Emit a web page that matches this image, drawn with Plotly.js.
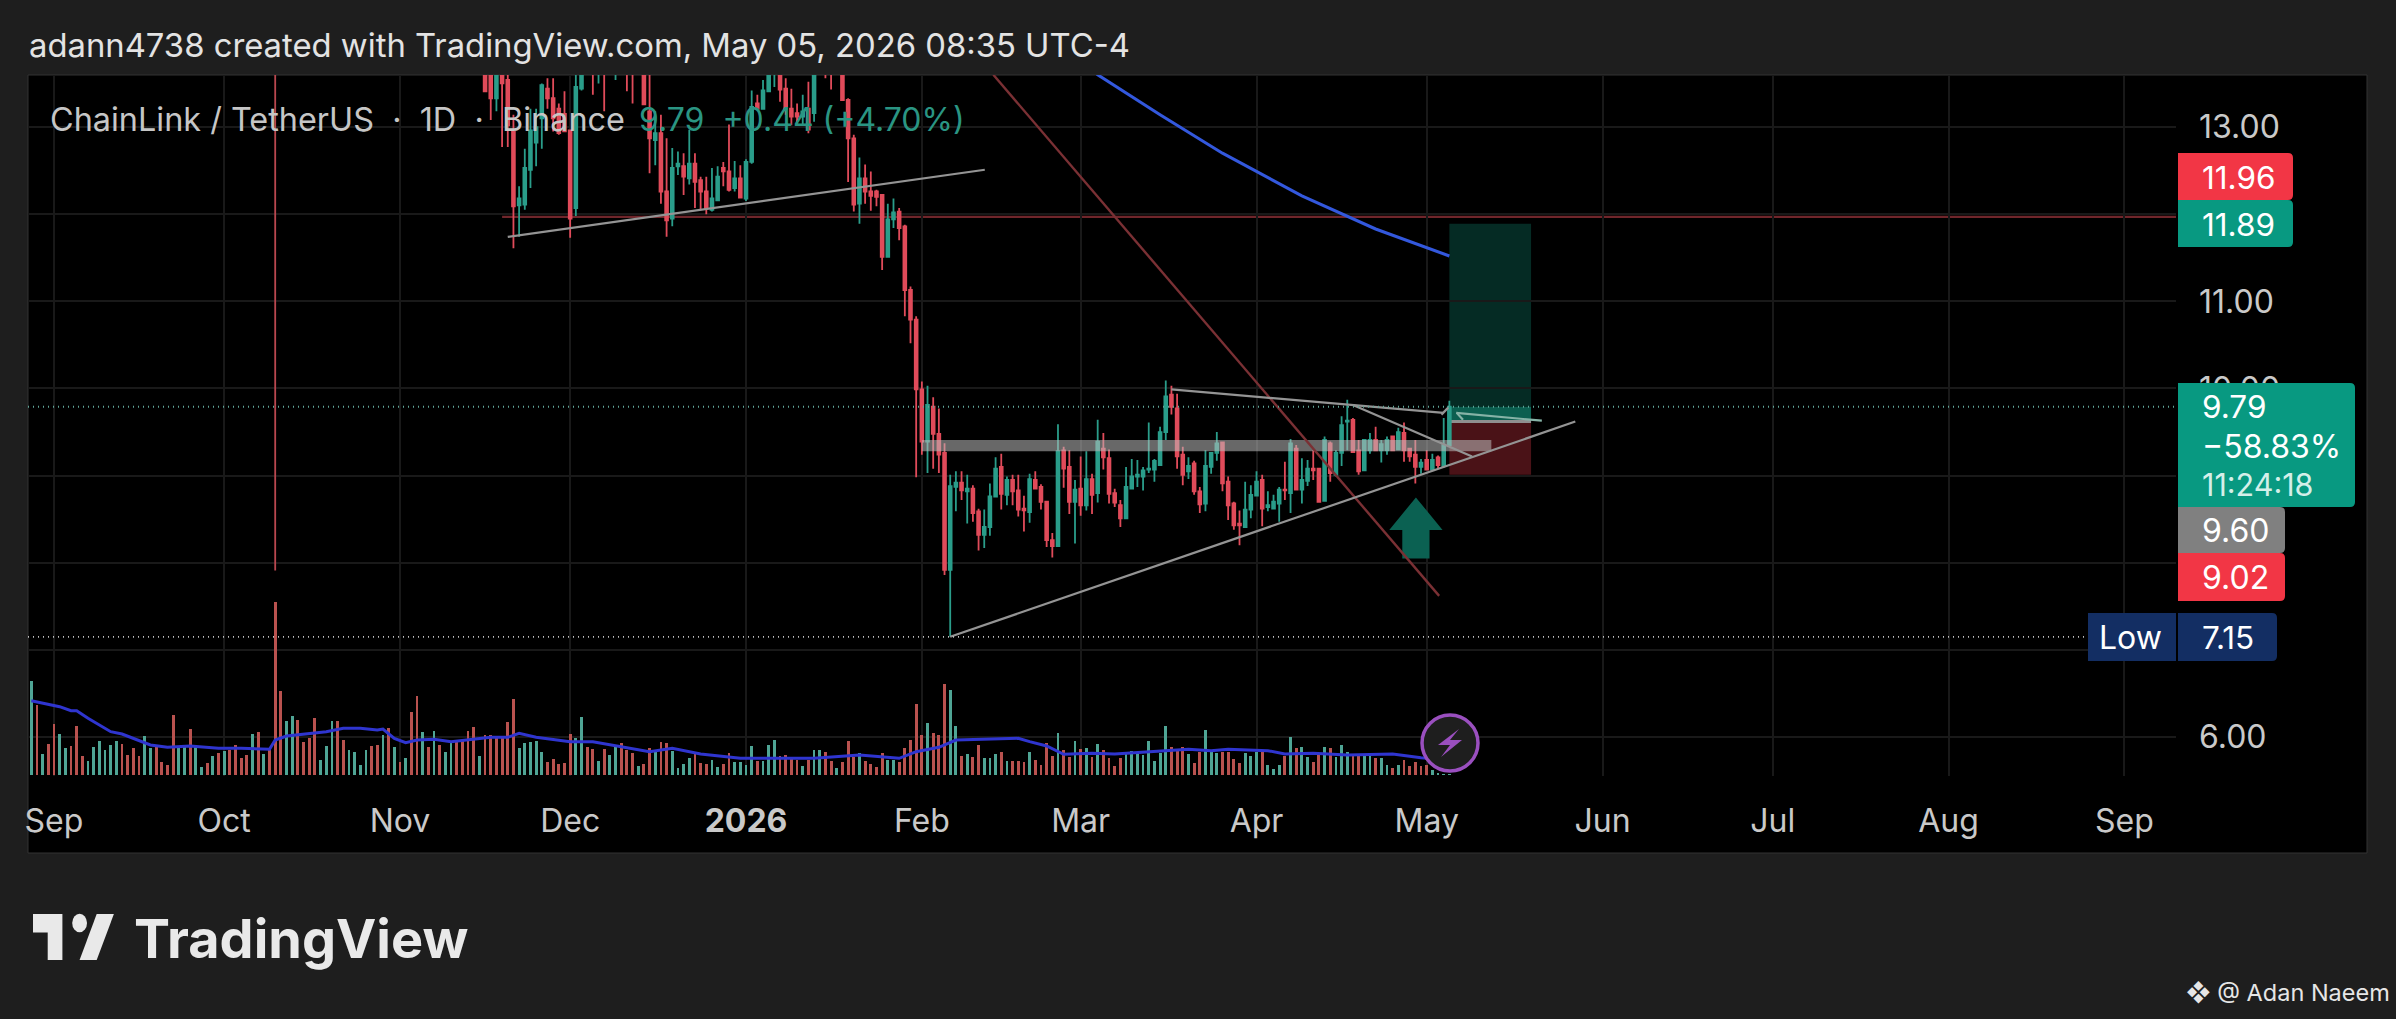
<!DOCTYPE html>
<html>
<head>
<meta charset="utf-8">
<script src="https://cdn.plot.ly/plotly-3.0.1.min.js"></script>
<style>html,body{margin:0;padding:0;background:#1e1e1e}#chart{width:2396px;height:1019px}</style>
</head>
<body>
<div id="chart"></div>
<script>
// Daily candles, first candle = Sep 1 2025 + 76 days
const firstCandleDay = 76;
const opens = [13.9,13.7,13.33,13.6,13.54,12.95,12.10,12.11,12.51,12.82,
13.10,13.44,13.33,13.21,13.15,12.96,12.07,13.44,13.9,13.85,
13.66,13.85,13.7,13.68,13.9,13.95,13.7,13.7,13.9,13.18,
12.85,12.93,12.26,11.95,12.55,12.55,12.41,12.58,12.39,12.26,
12.05,12.16,12.53,12.49,12.30,12.41,12.18,12.60,13.27,13.21,
13.41,13.62,13.7,13.44,13.21,13.16,13.12,13.21,13.16,13.7,
13.9,13.8,13.65,13.85,13.31,12.87,12.12,12.41,12.26,12.26,
12.22,11.51,11.94,12.03,11.86,11.13,10.79,9.99,9.39,9.79,
9.48,9.26,7.92,8.87,8.92,8.82,8.85,8.59,8.32,8.41,
8.76,9.10,8.78,8.95,8.83,8.62,8.58,8.95,8.87,8.70,
8.26,8.19,9.29,9.10,8.70,8.85,8.66,8.96,8.80,9.31,
9.20,8.80,8.66,8.51,8.85,8.99,8.99,9.07,9.07,9.12,
9.50,9.93,9.77,9.24,9.05,9.14,8.82,8.68,9.10,9.26,
9.38,8.93,8.68,8.45,8.41,8.61,8.77,8.95,8.64,8.62,
8.68,8.84,8.80,9.31,8.84,8.94,9.08,9.08,8.71,9.37,
9.01,9.26,9.62,9.64,9.29,9.06,9.29,9.41,9.29,9.29,
9.45,9.30,9.49,9.31,9.24,9.10,9.18,9.07,9.21,9.11,
9.35];
const highs = [14.0,13.9,13.9,13.7,13.65,13.14,12.32,12.75,13.21,13.21,
13.50,13.56,13.56,13.27,13.41,12.97,13.65,13.9,14.1,14.0,
14.0,14.0,14.0,14.0,14.1,14.1,14.0,13.9,14.0,13.65,
13.18,13.14,12.87,12.76,12.72,12.70,12.97,12.70,12.43,12.43,
12.53,12.55,12.60,13.03,12.61,12.56,12.63,13.42,13.37,13.54,
13.8,13.8,13.85,13.56,13.44,13.27,13.37,13.52,13.9,14.0,
14.0,14.0,13.95,14.0,13.33,12.91,12.65,12.57,12.49,12.28,
12.23,12.12,12.18,12.07,11.88,11.17,10.83,10.08,10.03,9.90,
9.77,9.37,9.01,9.05,9.05,9.01,8.89,8.62,8.61,8.91,
9.21,9.25,8.99,9.01,9.01,8.77,9.02,9.05,8.90,8.70,
8.34,9.59,9.33,9.29,8.95,9.22,9.28,9.02,9.64,9.49,
9.30,8.85,8.72,9.10,9.19,9.18,9.10,9.61,9.19,9.56,
10.09,10.03,9.94,9.33,9.21,9.17,8.87,9.29,9.26,9.50,
9.39,8.99,8.70,8.60,8.93,8.89,9.05,9.01,8.82,8.78,
8.87,9.16,9.42,9.35,9.20,9.18,9.29,9.09,9.45,9.39,
9.29,9.68,9.87,9.66,9.41,9.41,9.49,9.56,9.41,9.45,
9.45,9.55,9.61,9.31,9.41,9.19,9.29,9.25,9.23,9.66,
9.86];
const lows = [13.40,13.08,13.18,12.77,12.77,11.61,11.74,12.05,12.30,12.55,
12.75,13.21,12.95,12.91,12.95,11.73,11.98,13.42,13.7,13.37,
13.5,13.18,13.62,13.54,13.65,13.41,13.27,13.62,13.25,12.47,
12.56,12.12,11.74,11.86,12.45,12.22,12.34,12.07,12.05,12.00,
12.03,12.16,12.32,12.26,12.26,12.18,12.15,12.58,13.20,13.21,
13.40,13.46,13.29,13.14,13.02,13.06,13.02,12.93,13.06,13.65,
13.56,13.43,13.62,13.31,12.37,12.03,11.89,12.12,12.04,12.09,
11.36,11.51,11.84,11.70,10.83,10.52,8.98,9.24,9.03,9.08,
9.03,7.86,7.15,8.59,8.72,8.45,8.47,8.14,8.17,8.31,
8.76,8.61,8.66,8.66,8.53,8.36,8.46,8.85,8.61,8.18,
8.06,8.18,8.86,8.56,8.22,8.54,8.60,8.56,8.69,9.07,
8.68,8.64,8.41,8.50,8.85,8.87,8.83,9.03,8.93,9.12,
9.41,9.70,9.08,8.89,8.96,8.78,8.57,8.59,9.02,9.17,
8.82,8.49,8.38,8.20,8.40,8.51,8.76,8.42,8.59,8.61,
8.47,8.72,8.57,8.83,8.68,8.88,8.95,8.69,8.71,8.93,
8.99,9.11,9.29,9.26,9.01,9.05,9.25,9.28,9.15,9.24,
9.29,9.29,9.16,9.16,8.91,9.02,9.06,9.06,9.08,9.09,
9.34];
const closes = [13.41,13.33,13.7,13.5,13.02,12.09,12.18,12.53,12.96,13.0,
13.48,13.33,13.10,12.93,12.95,11.95,13.46,13.8,14.0,13.62,
13.85,13.65,13.9,13.9,14.0,13.7,13.62,13.8,13.26,12.87,
12.93,12.26,11.93,12.53,12.58,12.43,12.58,12.37,12.26,12.07,
12.18,12.43,12.49,12.28,12.41,12.19,12.60,13.23,13.21,13.42,
13.62,13.7,13.43,13.21,13.12,13.12,13.18,12.97,13.7,13.9,
13.7,13.65,13.85,13.31,12.87,12.11,12.41,12.26,12.21,12.20,
11.51,11.94,12.02,11.84,11.13,10.79,9.99,9.39,9.81,9.48,
9.24,7.92,8.88,8.92,8.83,8.85,8.57,8.32,8.41,8.76,
9.08,8.79,8.95,8.82,8.61,8.60,8.96,8.85,8.70,8.26,
8.19,9.28,9.08,8.70,8.84,8.66,8.96,8.78,9.39,9.21,
8.79,8.69,8.51,8.87,8.99,9.01,9.06,9.08,9.17,9.50,
9.91,9.79,9.22,9.01,9.11,8.82,8.67,9.11,9.26,9.37,
8.91,8.66,8.43,8.43,8.61,8.78,8.93,8.62,8.66,8.70,
8.84,8.83,9.37,8.84,8.95,9.08,9.06,8.70,9.41,9.03,
9.26,9.58,9.63,9.27,9.05,9.41,9.41,9.29,9.36,9.41,
9.29,9.50,9.29,9.22,9.10,9.15,9.07,9.18,9.12,9.35,
9.79];
// Oct 10 crash candle: only its lower wick is inside the visible price range
const crashDay = [39];
const crashOpen = [22.0], crashHigh = [22.5], crashLow = [7.91], crashClose = [17.6];

// Volume, first bar = Sep 1 2025 - 4 days; 20 bars a row
const firstVolumeDay = -4;
const volumes = [2.83,2.10,0.63,0.93,1.53,1.23,0.82,0.87,1.47,0.57,0.42,0.83,1.02,0.75,0.90,1.02,0.93,0.60,0.80,0.57,
1.17,0.80,0.90,0.40,0.30,1.80,0.83,0.90,1.38,0.83,0.25,0.35,0.57,0.67,0.73,0.75,0.90,0.50,0.60,1.23,
1.30,0.63,0.75,5.19,2.52,1.63,1.77,1.65,1.00,1.10,1.70,0.45,0.87,1.63,1.62,1.05,0.75,0.70,0.30,0.75,
0.87,0.90,1.20,1.40,0.85,0.40,0.52,1.90,2.37,1.28,0.85,1.33,0.90,0.70,0.97,1.00,1.05,1.33,1.45,0.57,
1.20,1.20,1.10,1.10,1.60,2.27,0.80,0.97,1.00,1.02,0.68,0.40,0.48,0.33,0.37,1.23,1.10,1.73,0.85,0.78,
0.42,0.77,0.60,0.85,0.95,0.75,0.65,0.27,0.33,0.80,0.70,0.98,0.97,0.73,0.20,0.33,0.52,0.65,0.37,0.33,
0.45,0.25,0.33,0.65,0.40,0.38,0.30,0.87,0.43,0.43,0.90,1.05,0.58,0.60,0.50,0.45,0.27,0.45,0.75,0.75,
0.68,0.42,0.20,0.40,1.02,0.55,0.65,0.42,0.33,0.23,0.65,0.45,0.45,0.40,0.80,1.05,2.13,1.20,1.57,1.27,
1.20,2.73,2.55,1.47,0.57,0.63,0.55,0.90,0.50,0.50,0.63,0.68,0.42,0.42,0.42,0.40,0.68,0.45,0.30,0.95,
0.57,1.25,0.75,0.53,1.02,0.77,0.80,0.55,0.93,0.75,0.52,0.27,0.52,0.70,0.73,0.65,0.60,1.02,0.42,0.67,
1.47,0.83,0.75,0.83,0.63,0.37,0.68,1.35,0.75,0.65,0.70,0.70,0.48,0.37,0.67,0.57,0.68,0.70,0.30,0.18,
0.30,0.58,1.15,0.80,0.83,0.55,0.40,0.60,0.85,0.80,0.55,0.90,0.68,0.57,0.57,0.58,0.58,0.50,0.52,0.30,
0.20,0.30,0.45,0.27,0.40,0.27,0.30,0.15,0.05,0.03,0.03];
const volumeSideRows = ["GRGRRGGRRRGGGGGGRRRR","GGRRRRGGRGGRGRGRRRRG","RGRRRGGRRRRGGGRRGGGG","RRGRGRGRRGRGRGGRRRRG",
"RRRRRRGGGGGRRRRRGGRR","GRGGRRRGRRGRRGGGGRRR","GGRRGGGGRGGGRRRRGRGG","RRGRRRGRRRRGGRRRRRGR",
"RRGGRGRRGGGRGRRRGRRR","RGRRGRGRGRRRRGGGGGGG","GRRRGRRGGGRRRRGGGRGG","GRGRGGRRGRGGGRRGGRGG","RGRRRRRGGGG"];
// Volume moving average, as day offset / value read at the line's bends
const volMaDays = [-4,-1,1,3,4,6,10,12,15,17,20,24,29,33,38,39,41,44,48,51,54,57,58,60,62,64,67,70,74,77,80,82,85,91,95,101,105,109,114,121,134,142,149,152,156,159,163,170,172,175,178,183,187,193,200,204,207,214,217,222,228,236,241,246];
const volMaValues = [2.23,2.13,2.05,1.93,1.93,1.70,1.30,1.23,1.02,0.90,0.83,0.87,0.80,0.80,0.77,1.05,1.17,1.23,1.30,1.40,1.40,1.35,1.38,1.10,0.97,1.05,1.07,1.00,1.08,1.13,1.13,1.25,1.13,1.00,1.00,0.83,0.70,0.80,0.63,0.50,0.50,0.60,0.50,0.70,0.83,1.05,1.07,1.10,1.00,0.87,0.62,0.65,0.63,0.70,0.77,0.73,0.77,0.73,0.63,0.65,0.60,0.63,0.52,0.45];
// Long moving average on price
const priceMaDays = [170,184,195,206,220,233,246];
const priceMaValues = [14.4,13.60,13.14,12.70,12.21,11.83,11.52];

const priceTicks = [6,7,8,9,10,11,12,13];
const hiddenTickLabels = [8,9,12];   // sit fully behind price tags in the picture
const monthDays = [0,30,61,91,122,153,181,212,242,273,303,334,365];
const monthLabels = ['Sep','Oct','Nov','Dec','<b>2026</b>','Feb','Mar','Apr','May','Jun','Jul','Aug','Sep'];

// Drawings: [startDay,startPrice,endDay,endPrice]
const greyTrendLines = [[80,11.74,164.1,12.51],[158,7.15,268.2,9.62],[197,9.99,245,9.72],[229,9.81,250,9.22],[244.6,9.70,245.8,9.78]];
const tealTrendLines = [[247.2,9.72,262.3,9.63],[247.3,9.72,248.4,9.64]];
const redTrendLine = [165.6,13.60,244.2,7.62];
const resistanceLevel = 11.97, resistanceStartDay = 79;
const lastPrice = 9.79, lowestPrice = 7.15, entryPrice = 9.62, targetPrice = 11.89, stopPrice = 9.01;
const positionStartDay = 246, positionEndDay = 260.4;
const bandTop = 9.41, bandBottom = 9.28, bandStartDay = 153, bandEndDay = 253.4;
const arrowDays = [240.1,244.8,242.5,242.5,237.7,237.7,235.4,240.1];
const arrowPrices = [8.75,8.376,8.376,8.05,8.05,8.376,8.376,8.75];

const RED='#e04b5a', GREEN='#2a9d8a', VOLRED='#b9524f', VOLGREEN='#4fa595';

// ---- geometry helpers ----
const plotL=28, plotR=2176, plotT=75, plotB=776;
const X=p=>(p-plotL)/(plotR-plotL), Y=p=>(plotB-p)/(plotB-plotT);
const dayMs=864e5, epoch=Date.UTC(2025,8,1);
const toDate=d=>new Date(epoch+d*dayMs).toISOString().slice(0,19).replace('T',' ');
const xAxisStart=toDate(-4.58), xAxisEnd=toDate(374.1);

const candleDates=opens.map((_,i)=>toDate(firstCandleDay+i));
const volDates=volumes.map((_,i)=>toDate(firstVolumeDay+i));
const sides=volumeSideRows.join('').split('');
const pick=s=>{const x=[],y=[];volumes.forEach((v,i)=>{if(sides[i]===s){x.push(volDates[i]);y.push(v);}});return{x,y};};
const volG=pick('G'), volR=pick('R');

const candleStyle={type:'candlestick',xaxis:'x',yaxis:'y',showlegend:false,hoverinfo:'skip',
  width:0.58*dayMs,whiskerwidth:0,
  increasing:{line:{color:GREEN,width:1.8},fillcolor:GREEN},
  decreasing:{line:{color:RED,width:1.8},fillcolor:RED}};

const traces=[
 {type:'bar',x:volG.x,y:volG.y,yaxis:'y2',width:0.5*dayMs,marker:{color:VOLGREEN,line:{width:0}},hoverinfo:'skip',showlegend:false},
 {type:'bar',x:volR.x,y:volR.y,yaxis:'y2',width:0.5*dayMs,marker:{color:VOLRED,line:{width:0}},hoverinfo:'skip',showlegend:false},
 {type:'scatter',mode:'lines',x:volMaDays.map(toDate),y:volMaValues,yaxis:'y2',line:{color:'#2f35cf',width:3},hoverinfo:'skip',showlegend:false},
 Object.assign({},candleStyle,{x:crashDay.map(toDate),open:crashOpen,high:crashHigh,low:crashLow,close:crashClose,decreasing:{line:{color:'#b9474f',width:1.8},fillcolor:RED}}),
 Object.assign({},candleStyle,{x:candleDates,open:opens,high:highs,low:lows,close:closes}),
 {type:'scatter',mode:'lines',x:priceMaDays.map(toDate),y:priceMaValues,line:{color:'#3358dd',width:3},hoverinfo:'skip',showlegend:false},
 {type:'scatter',mode:'lines',x:arrowDays.map(toDate),y:arrowPrices,fill:'toself',fillcolor:'#0b6152',line:{width:0,color:'#0b6152'},hoverinfo:'skip',showlegend:false}
];

const seg=(a,color,w,extra)=>Object.assign({type:'line',xref:'x',yref:'y',x0:toDate(a[0]),y0:a[1],x1:toDate(a[2]),y1:a[3],line:{color,width:w}},extra||{});
const box=(d0,d1,top,bot,color,layer)=>({type:'rect',xref:'x',yref:'y',x0:toDate(d0),x1:toDate(d1),y0:top,y1:bot,fillcolor:color,line:{width:0},layer});
const pxRect=(l,t,r,b,color,layer,line)=>({type:'rect',xref:'paper',yref:'paper',x0:X(l),x1:X(r),y0:Y(b),y1:Y(t),fillcolor:color,line:line||{width:0},layer});
const pxPoly=(pts,color,line)=>({type:'path',xref:'paper',yref:'paper',path:'M'+pts.map(p=>X(p[0])+','+Y(p[1])).join('L')+'Z',fillcolor:color,line:line||{width:0},layer:'above'});
const pxTag=(l,t,r,b,color)=>{const k=5,f=(x,y)=>X(x)+','+Y(y);
  return {type:'path',xref:'paper',yref:'paper',layer:'above',fillcolor:color,line:{width:0},
  path:`M${f(l,t)}L${f(r-k,t)}Q${f(r,t)} ${f(r,t+k)}L${f(r,b-k)}Q${f(r,b)} ${f(r-k,b)}L${f(l,b)}Z`};};

const shapes=[
 pxRect(plotL,plotT,2367,853,'#000000','below',{color:'#333333',width:1}),
 box(positionStartDay,positionEndDay,targetPrice,lastPrice,'#052b24','below'),
 box(positionStartDay,positionEndDay,lastPrice,entryPrice,'#0c5f50','below'),
 box(positionStartDay,positionEndDay,entryPrice,stopPrice,'#4a1217','below'),
 seg([positionStartDay,entryPrice,positionEndDay,entryPrice],'#8f8f8f',3,{layer:'below'}),
 seg([resistanceStartDay,resistanceLevel,374.1,resistanceLevel],'#70262b',2.2,{layer:'below'}),
 box(bandStartDay,bandEndDay,bandTop,bandBottom,'rgba(190,190,190,0.55)','above'),
 seg(redTrendLine,'#7a3034',2.4),
 ...greyTrendLines.map(a=>seg(a,'#949494',2.2)),
 ...tealTrendLines.map(a=>seg(a,'#86b3a7',2.2)),
 seg([-4.58,lastPrice,374.1,lastPrice],'#5fa597',1.8,{line:{color:'#5fa597',width:1.8,dash:'1px,4px'}}),
 {type:'line',xref:'paper',yref:'y',x0:0,x1:X(2089),y0:lowestPrice,y1:lowestPrice,line:{color:'#c0c0c0',width:1.8,dash:'1px,4px'}},
 // price tags
 pxTag(2178,153,2293,200,'#f23645'),
 pxTag(2178,200,2293,247,'#089981'),
 pxTag(2178,383,2355,507,'#089981'),
 pxTag(2178,507,2285,553,'#808080'),
 pxTag(2178,553,2285,601,'#f23645'),
 pxRect(2088,613,2176,661,'#132e63','above'),
 pxTag(2178,613,2277,661,'#132e63'),
 // lightning badge
 {type:'circle',xref:'paper',yref:'paper',x0:X(1422),x1:X(1478),y0:Y(771),y1:Y(715),fillcolor:'#1e1e1e',line:{color:'#9a4fbf',width:3.5},layer:'above'},
 pxPoly([[1459,729],[1438,745],[1450,745],[1441,757],[1462,740],[1450,740]],'#9a4fbf'),
 // wordmark glyph
 pxPoly([[62.4,914],[33,914],[33,932.4],[47.7,932.4],[47.7,960],[62.4,960]],'#e9e9e9'),
 pxPoly([[96.7,960],[79.6,960],[96.7,914],[113.9,914]],'#e9e9e9'),
 {type:'circle',xref:'paper',yref:'paper',x0:X(72.2),x1:X(87),y0:Y(932.2),y1:Y(913.8),fillcolor:'#e9e9e9',line:{width:0},layer:'above'}
];

const FONT='Inter, "Noto Sans", sans-serif';
const label=(text,px,py,size,color,extra)=>Object.assign({text,xref:'paper',yref:'paper',x:X(px),y:Y(py),xanchor:'left',yanchor:'middle',showarrow:false,align:'left',borderpad:0,font:{family:FONT,size,color}},extra||{});

const annotations=[
 label('adann4738 created with TradingView.com, May 05, 2026 08:35 UTC-4',28,45,32.8,'#e3e3e3'),
 label('ChainLink / TetherUS &#160;·&#160; 1D &#160;·&#160; Binance',49,120,32.4,'#c6c6c6'),
 label('9.79 &#160;+0.44 (+4.70%)',638,120,32,'#2a9583'),
 label('11.96',2201,177,31.5,'#ffffff'),
 label('11.89',2201,224,31.5,'#ffffff'),
 label('9.79',2201,406,31.5,'#ffffff'),
 label('−58.83%',2201,446,32,'#ffffff'),
 label('11:24:18',2201,484,30.5,'#d4efe9'),
 label('9.60',2201,530,32,'#ffffff'),
 label('9.02',2201,577,32,'#ffffff'),
 label('Low',2098,637,32,'#ffffff'),
 label('7.15',2201,637,31.5,'#ffffff'),
 label('<b>TradingView</b>',133,938,54,'#e9e9e9'),
 label('❖ @ Adan Naeem',2185,993,23.5,'#e6e6e6')
];

const layout={
 width:2396,height:1019,
 paper_bgcolor:'#1e1e1e',plot_bgcolor:'rgba(0,0,0,0)',
 margin:{l:plotL,r:2396-plotR,t:plotT,b:1019-plotB,pad:0},
 showlegend:false,barmode:'overlay',bargap:0,
 font:{family:FONT,color:'#c9c9c9',size:32},
 xaxis:{type:'date',range:[xAxisStart,xAxisEnd],tickmode:'array',tickvals:monthDays.map(toDate),ticktext:monthLabels,
   rangeslider:{visible:false},showgrid:true,gridcolor:'#191919',gridwidth:2,zeroline:false,showline:false,ticks:'',
   ticklabelstandoff:23,tickfont:{family:FONT,size:32,color:'#c9c9c9'},tickangle:0},
 yaxis:{range:[5.553,13.597],side:'right',tickmode:'array',tickvals:priceTicks,
   ticktext:priceTicks.map(v=>hiddenTickLabels.includes(v)?'':v.toFixed(2)),
   showgrid:true,gridcolor:'#191919',gridwidth:2,zeroline:false,showline:false,ticks:'',ticklabelstandoff:22,
   tickfont:{family:FONT,size:32,color:'#c9c9c9'}},
 yaxis2:{overlaying:'y',range:[-0.03,21.0],side:'left',visible:false,fixedrange:true},
 shapes,annotations
};
Plotly.newPlot('chart',traces,layout,{staticPlot:true,displayModeBar:false});
</script>
</body>
</html>
